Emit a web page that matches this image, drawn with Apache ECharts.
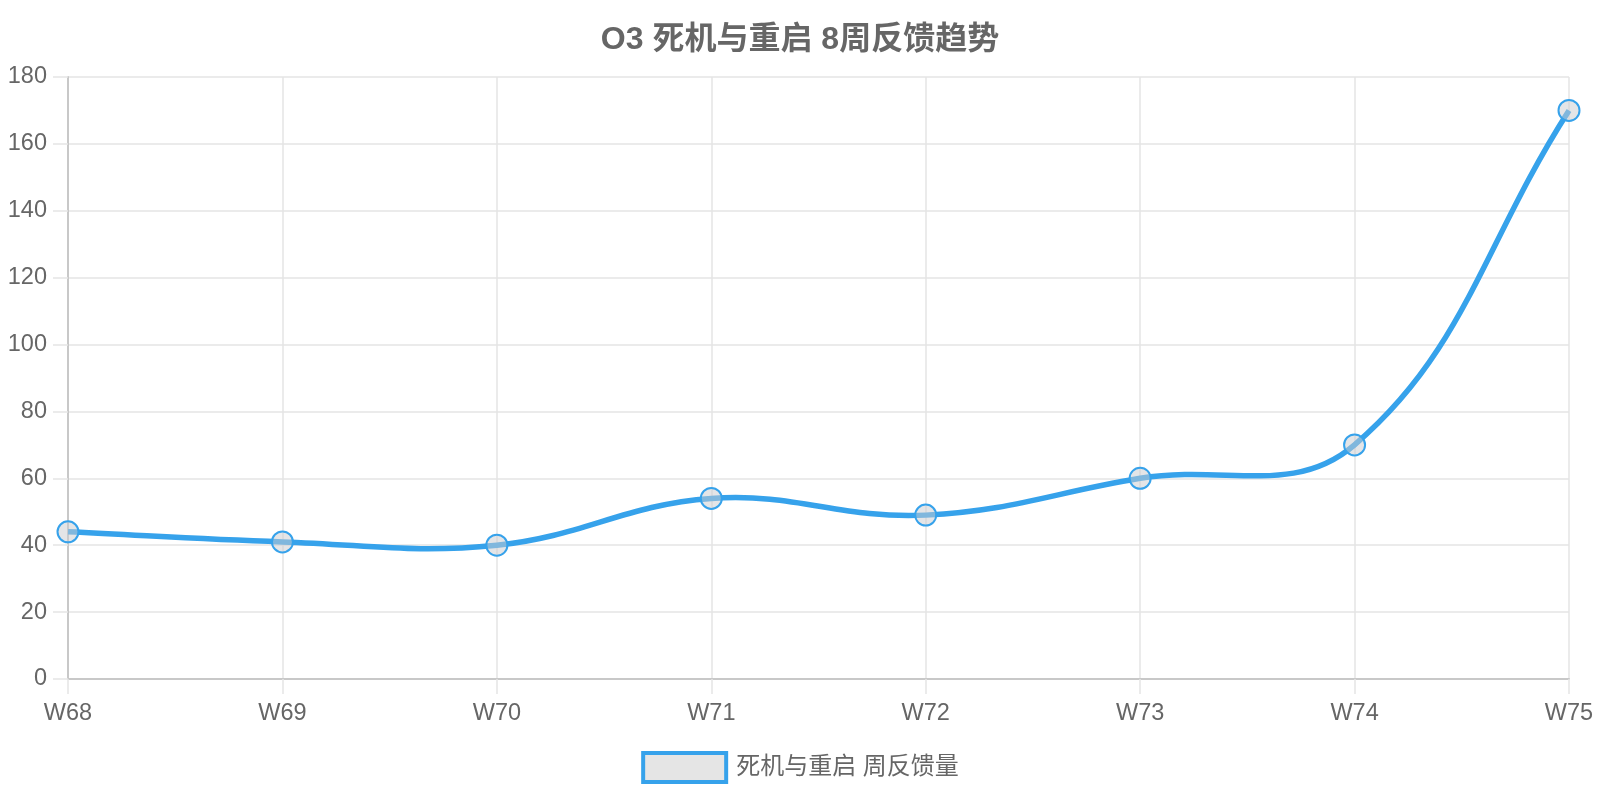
<!DOCTYPE html>
<html>
<head>
<meta charset="utf-8">
<title>O3 死机与重启 8周反馈趋势</title>
<script src="https://cdn.jsdelivr.net/npm/echarts@6/dist/echarts.min.js"></script>
<style>
  html, body { margin: 0; padding: 0; background: #fff; }
  #chart { width: 1600px; height: 800px; }
</style>
</head>
<body>
<div id="chart"></div>
<script>
    // 周次与反馈量
    var weeks = ['W68', 'W69', 'W70', 'W71', 'W72', 'W73', 'W74', 'W75'];
    var feedback = [44, 41, 40, 54, 49, 60, 70, 170];
    var seriesName = '死机与重启 周反馈量';
    var titleText = 'O3 死机与重启 8周反馈趋势';

    var font = "'Liberation Sans', 'Noto Sans CJK SC', sans-serif";
    var lineColor = '#36a2eb';
    var gridColor = '#e5e5e5';
    var axisColor = '#c8c8c8';
    var tension = 0.4;

    var chart = echarts.init(document.getElementById('chart'));

    // 样条曲线（不把控制点夹在相邻点之间，曲线可以略微越过数据点）
    function renderCurve(params, api) {
        if (params.dataIndex !== 0) return;
        var pts = feedback.map(function (v, i) {
            return api.coord([i, v]);
        });
        var cps = pts.map(function (cur, i) {
            var prev = pts[i - 1] || cur;
            var next = pts[i + 1] || cur;
            var d01 = Math.hypot(cur[0] - prev[0], cur[1] - prev[1]);
            var d12 = Math.hypot(next[0] - cur[0], next[1] - cur[1]);
            var s01 = d01 / (d01 + d12) || 0;
            var s12 = d12 / (d01 + d12) || 0;
            var fa = tension * s01, fb = tension * s12;
            return {
                before: [cur[0] - fa * (next[0] - prev[0]), cur[1] - fa * (next[1] - prev[1])],
                after: [cur[0] + fb * (next[0] - prev[0]), cur[1] + fb * (next[1] - prev[1])]
            };
        });
        var d = 'M' + pts[0][0] + ' ' + pts[0][1];
        for (var i = 1; i < pts.length; i++) {
            d += ' C' + cps[i - 1].after[0] + ' ' + cps[i - 1].after[1] + ' ' +
                cps[i].before[0] + ' ' + cps[i].before[1] + ' ' +
                pts[i][0] + ' ' + pts[i][1];
        }
        return {
            type: 'path',
            shape: { pathData: d },
            style: { stroke: lineColor, lineWidth: 5.5, fill: null }
        };
    }

    var option = {
        animation: false,
        textStyle: { fontFamily: font },
        title: {
            text: titleText,
            left: 'center',
            top: 19,
            textStyle: {
                fontSize: 32,
                fontWeight: 'bold',
                color: '#666',
                fontFamily: font
            }
        },
        legend: {
            bottom: 11,
            left: 'center',
            icon: 'rect',
            itemWidth: 83,
            itemHeight: 29,
            itemGap: 10,
            itemStyle: {
                color: '#e5e5e5',
                borderColor: lineColor,
                borderWidth: 4
            },
            textStyle: { fontSize: 24, color: '#666', fontFamily: font, padding: [0, 0, 0, 5] },
            data: [seriesName]
        },
        grid: {
            left: 68,
            right: 31,
            top: 77,
            bottom: 121,
            containLabel: false
        },
        xAxis: {
            type: 'category',
            boundaryGap: false,
            data: weeks,
            axisLine: { lineStyle: { color: axisColor, width: 2 } },
            axisTick: { show: true, length: 15, alignWithLabel: true, lineStyle: { color: gridColor, width: 1.5 } },
            axisLabel: { fontSize: 23.5, color: '#666', margin: 23, fontFamily: font },
            splitLine: { show: true, lineStyle: { color: gridColor, width: 1.5 } }
        },
        yAxis: {
            type: 'value',
            min: 0,
            max: 180,
            interval: 20,
            axisLine: { show: true, lineStyle: { color: axisColor, width: 2 } },
            axisTick: { show: true, length: 15, lineStyle: { color: gridColor, width: 1.5 } },
            axisLabel: { fontSize: 23.5, color: '#666', margin: 21, fontFamily: font },
            splitLine: { show: true, lineStyle: { color: gridColor, width: 1.5 } }
        },
        series: [{
            name: 'curve',
            type: 'custom',
            renderItem: renderCurve,
            data: feedback.map(function (v, i) { return [i, v]; }),
            silent: true
        }, {
            name: seriesName,
            type: 'line',
            data: feedback,
            symbol: 'circle',
            symbolSize: 21,
            lineStyle: { opacity: 0 },
            itemStyle: {
                color: 'rgba(201, 203, 207, 0.5)',
                borderColor: lineColor,
                borderWidth: 2
            }
        }]
    };

    chart.setOption(option);
</script>
</body>
</html>
